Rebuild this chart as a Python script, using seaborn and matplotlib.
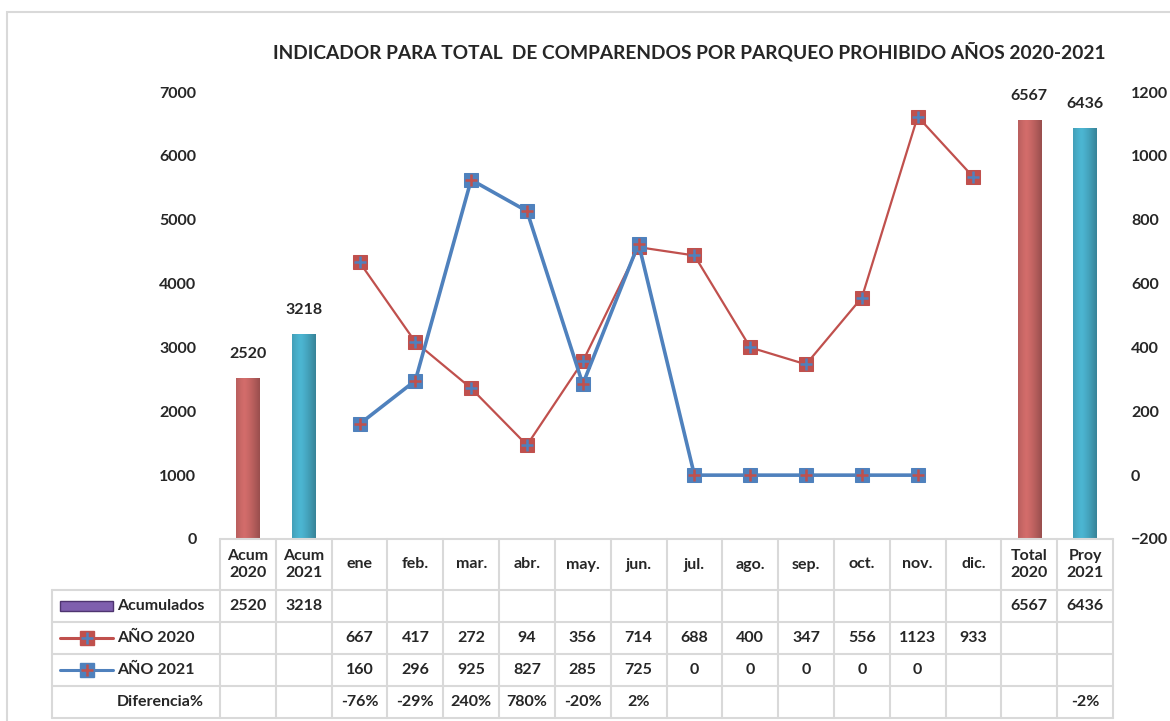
import numpy as np
import pandas as pd
import matplotlib
matplotlib.use('Agg')
import matplotlib.pyplot as plt
import seaborn as sns
from matplotlib.patches import Rectangle
from matplotlib.lines import Line2D
from matplotlib.transforms import blended_transform_factory

# Data
categories = ['Acum\n2020', 'Acum\n2021', 'ene', 'feb.', 'mar.', 'abr.', 'may.', 'jun.',
              'jul.', 'ago.', 'sep.', 'oct.', 'nov.', 'dic.', 'Total\n2020', 'Proy\n2021']
bar_cats = ['Acum\n2020', 'Acum\n2021', 'Total\n2020', 'Proy\n2021']
acumulados = [2520, 3218, 6567, 6436]
months = ['ene', 'feb.', 'mar.', 'abr.', 'may.', 'jun.', 'jul.', 'ago.', 'sep.', 'oct.', 'nov.', 'dic.']
anio_2020 = [667, 417, 272, 94, 356, 714, 688, 400, 347, 556, 1123, 933]
anio_2021 = [160, 296, 925, 827, 285, 725, 0, 0, 0, 0, 0]
diferencia = ['', '', '-76%', '-29%', '240%', '780%', '-20%', '2%', '', '', '', '', '', '', '', '-2%']

RED = '#c0504d'
BLUE = '#4f81bd'
BAR_COLORS = {'Acum\n2020': '#cc5250', 'Total\n2020': '#cc5250',
              'Acum\n2021': '#30aed0', 'Proy\n2021': '#30aed0'}
GRID = '#d9d9d9'
FS = 11.5

sns.set_style('white')
plt.rcParams['font.family'] = ['Lato', 'DejaVu Sans']
plt.rcParams['font.weight'] = 'bold'

W, H = 1170, 721
fig = plt.figure(figsize=(W / 100, H / 100), dpi=100)

def fx(px):
    return px / W

def fy(py):
    return 1 - py / H

ax = fig.add_axes([fx(220), fy(539), fx(1113) - fx(220), fy(92) - fy(539)])

# bars (left axis)
df_bars = pd.DataFrame({'cat': bar_cats, 'val': acumulados})
sns.barplot(data=df_bars, x='cat', y='val', order=categories, hue='cat',
            palette=BAR_COLORS, width=0.42, legend=False, ax=ax, linewidth=0)

# cylinder-like shading on bars
for p in list(ax.patches):
    if p.get_height() <= 0 or np.isnan(p.get_height()):
        continue
    base = np.array(matplotlib.colors.to_rgb(p.get_facecolor()))
    t = np.linspace(0, 1, 60)
    shade = 1.12 - 0.55 * np.abs(t - 0.35) ** 1.3
    arr = np.clip(base[None, None, :] * shade[None, :, None], 0, 1)
    im = ax.imshow(arr, extent=[p.get_x(), p.get_x() + p.get_width(), 0, p.get_height()],
                   aspect='auto', zorder=2, interpolation='bicubic')
    im.set_clip_path(p)
    ax.annotate(f'{int(round(p.get_height()))}', (p.get_x() + p.get_width() / 2, p.get_height()),
                xytext=(0, 12), textcoords='offset points', ha='center', va='bottom',
                fontsize=FS, fontweight='bold')

ax.set_xlim(-0.5, len(categories) - 0.5)
ax.set_ylim(0, 7000)
ax.set_yticks(range(0, 7001, 1000))
ax.set_xticks([])
ax.set_xlabel('')
ax.set_ylabel('')
ax.tick_params(axis='y', length=0, pad=17, labelsize=FS)
for s in ax.spines.values():
    s.set_visible(False)

# lines (right axis)
ax2 = ax.twinx()
pos = {c: i for i, c in enumerate(categories)}
x20 = [pos[m] for m in months[:len(anio_2020)]]
x21 = [pos[m] for m in months[:len(anio_2021)]]
sns.lineplot(x=x20, y=anio_2020, ax=ax2, color=RED, linewidth=1.6, marker='s',
             markersize=10, markerfacecolor=RED, markeredgecolor=RED, zorder=3)
ax2.plot(x20, anio_2020, linestyle='none', marker='+', markersize=9, markeredgewidth=1.8,
         color=BLUE, zorder=4)
sns.lineplot(x=x21, y=anio_2021, ax=ax2, color=BLUE, linewidth=2.6, marker='s',
             markersize=10, markerfacecolor=BLUE, markeredgecolor=BLUE, zorder=5)
ax2.plot(x21, anio_2021, linestyle='none', marker='+', markersize=9, markeredgewidth=1.8,
         color=RED, zorder=6)
ax2.set_ylim(-200, 1200)
ax2.set_yticks(range(-200, 1201, 200))
ax2.tick_params(axis='y', length=0, pad=13, labelsize=FS)
ax2.set_xlim(-0.5, len(categories) - 0.5)
for s in ax2.spines.values():
    s.set_visible(False)
for lab in ax.get_yticklabels() + ax2.get_yticklabels():
    lab.set_fontweight('bold')

# title
fig.text(fx(689), fy(52), 'INDICADOR PARA TOTAL  DE COMPARENDOS POR PARQUEO PROHIBIDO AÑOS 2020-2021',
         ha='center', va='center', fontsize=13.8, fontweight='bold')

# data table below the plot
tr = blended_transform_factory(ax.transData, fig.transFigure)
row_edges = [539, 590, 622, 654, 686, 718]
row_centers = [(row_edges[i] + row_edges[i + 1]) / 2 for i in range(5)]
n = len(categories)

# horizontal lines
fig.add_artist(Line2D([fx(220), fx(1113)], [fy(539)] * 2, color=GRID, lw=1.5))
for yy in row_edges[1:]:
    fig.add_artist(Line2D([fx(52), fx(1113)], [fy(yy)] * 2, color=GRID, lw=1.5))
# vertical lines
fig.add_artist(Line2D([fx(52)] * 2, [fy(590), fy(718)], color=GRID, lw=1.5))
for i in range(n + 1):
    ax.add_artist(Line2D([i - 0.5] * 2, [fy(539), fy(718)], color=GRID, lw=1.5,
                         transform=tr, clip_on=False))

row_vals = [
    dict(zip(bar_cats, [str(v) for v in acumulados])),
    dict(zip(months, [str(v) for v in anio_2020])),
    dict(zip(months, [str(v) for v in anio_2021])),
    dict(zip(categories, diferencia)),
]
for i, c in enumerate(categories):
    ax.text(i, fy(row_centers[0]), c, transform=tr, ha='center', va='center',
            fontsize=FS, fontweight='bold', linespacing=1.3)
    for r, vals in enumerate(row_vals):
        txt = vals.get(c, '')
        if txt:
            ax.text(i, fy(row_centers[r + 1]), txt, transform=tr, ha='center', va='center',
                    fontsize=FS, fontweight='bold')

row_names = ['Acumulados', 'AÑO 2020', 'AÑO 2021', 'Diferencia%']
for r, name in enumerate(row_names):
    fig.text(fx(117), fy(row_centers[r + 1]), name, ha='left', va='center',
             fontsize=FS, fontweight='bold')

# legend keys in the table
yc = fy(row_centers[1])
fig.add_artist(Rectangle((fx(60), yc - 5 / H), fx(113) - fx(60), 10 / H, facecolor='#7f5fae',
                         edgecolor='#4e3470', lw=1))
for r, col, mcol in [(2, RED, BLUE), (3, BLUE, RED)]:
    yk = fy(row_centers[r])
    fig.add_artist(Line2D([fx(60), fx(113)], [yk, yk], color=col, lw=2.2))
    fig.add_artist(Line2D([fx(87)], [yk], marker='s', markersize=10, color=col, linestyle='none'))
    fig.add_artist(Line2D([fx(87)], [yk], marker='+', markersize=9, markeredgewidth=1.8,
                          color=mcol, linestyle='none'))

# outer frame
fig.add_artist(Rectangle((fx(7), fy(800)), fx(1200) - fx(7), fy(12) - fy(800), fill=False,
                         edgecolor=GRID, lw=1.5))

fig.savefig('out.png', dpi=100)
